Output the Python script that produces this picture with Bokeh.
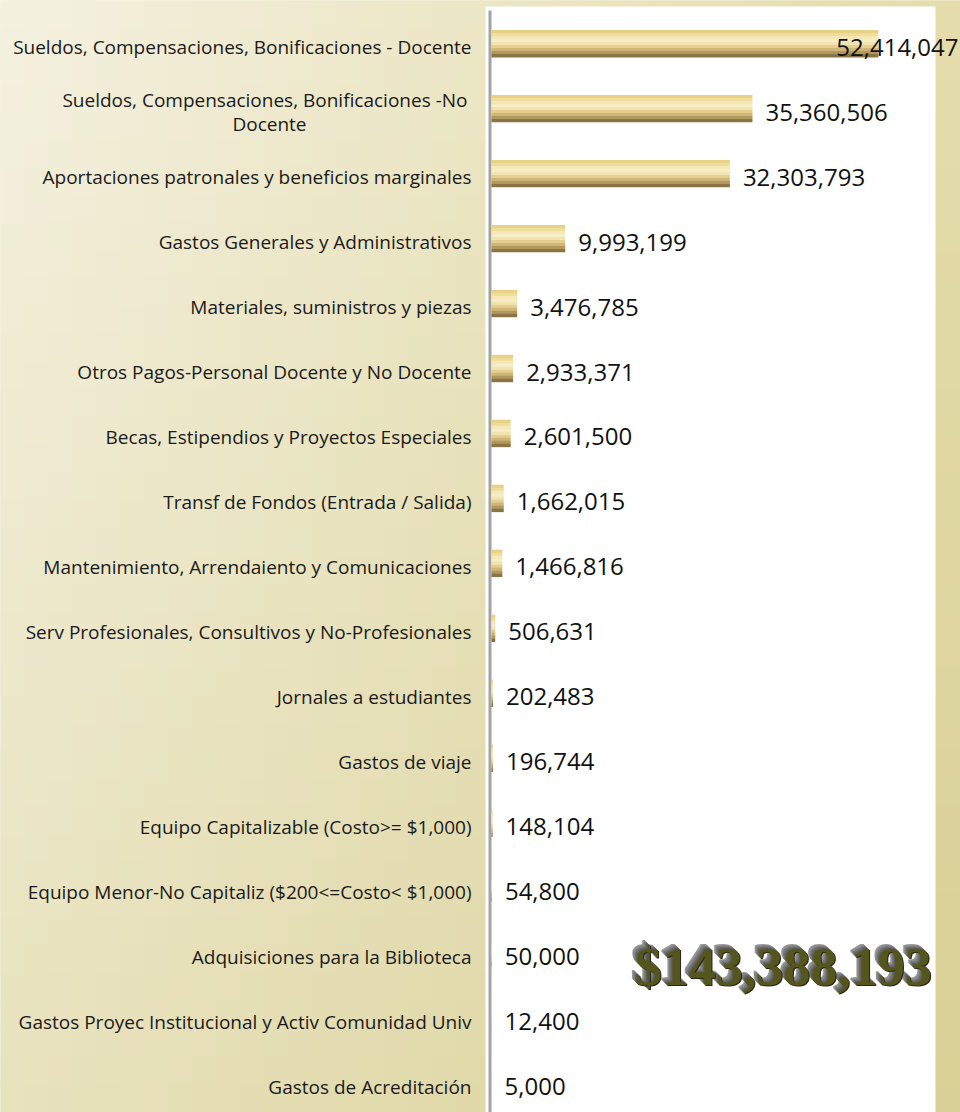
import numpy as np
from bokeh.plotting import figure
from bokeh.models import Range1d, ColumnDataSource
from bokeh.core.properties import value
from bokeh.embed import file_html
from bokeh.resources import INLINE

# ---------------- data ----------------
categories = [
    "Sueldos, Compensaciones, Bonificaciones - Docente",
    "Sueldos, Compensaciones, Bonificaciones -No\nDocente",
    "Aportaciones patronales y beneficios marginales",
    "Gastos Generales y Administrativos",
    "Materiales, suministros y piezas",
    "Otros Pagos-Personal Docente y No Docente",
    "Becas, Estipendios y Proyectos Especiales",
    "Transf de Fondos (Entrada / Salida)",
    "Mantenimiento, Arrendaiento y Comunicaciones",
    "Serv Profesionales, Consultivos y No-Profesionales",
    "Jornales a estudiantes",
    "Gastos de viaje",
    "Equipo Capitalizable (Costo>= $1,000)",
    "Equipo Menor-No Capitaliz ($200<=Costo< $1,000)",
    "Adquisiciones para la Biblioteca",
    "Gastos Proyec Institucional y Activ Comunidad Univ",
    "Gastos de Acreditación",
]
values = [52414047, 35360506, 32303793, 9993199, 3476785, 2933371, 2601500,
          1662015, 1466816, 506631, 202483, 196744, 148104, 54800, 50000,
          12400, 5000]
total_label = "$143,388,193"

# ---------------- layout constants ----------------
W, H = 960, 1112
ZERO_PX = 491.0
PX_PER_UNIT = 7.38e-6
ROW0_PX = 46.7
ROW_PX = 64.96

x_start = -ZERO_PX / PX_PER_UNIT
x_end = (W - ZERO_PX) / PX_PER_UNIT
y_top = -ROW0_PX / ROW_PX
y_bottom = (H - ROW0_PX) / ROW_PX


def px2x(px):
    return x_start + px / PX_PER_UNIT


def py2y(py):
    return y_top + py / ROW_PX


p = figure(width=W, height=H, x_range=Range1d(x_start, x_end),
           y_range=Range1d(y_bottom, y_top), output_backend="svg",
           toolbar_location=None, min_border=0)
p.axis.visible = False
p.grid.visible = False
p.outline_line_color = None
p.border_fill_color = "#ebe5c4"
p.background_fill_color = "#ebe5c4"

# ---------------- background gradient ----------------
def hex2rgb(h):
    h = h.lstrip("#")
    return np.array([int(h[i:i + 2], 16) for i in (0, 2, 4)], dtype=float)

TL, TR = hex2rgb("#f4f1e0"), hex2rgb("#e4dcab")
BL, BR = hex2rgb("#e8e2bd"), hex2rgb("#d9d096")
nx, ny = 40, 40
ql, qr, qt, qb, qc = [], [], [], [], []
for i in range(nx):
    for j in range(ny):
        u = (i + 0.5) / nx
        v = (j + 0.5) / ny
        c = (1 - u) * (1 - v) * TL + u * (1 - v) * TR + (1 - u) * v * BL + u * v * BR
        ql.append(px2x(i * W / nx - 0.5))
        qr.append(px2x((i + 1) * W / nx + 0.5))
        qt.append(py2y(j * H / ny - 0.5))
        qb.append(py2y((j + 1) * H / ny + 0.5))
        qc.append("#%02x%02x%02x" % tuple(int(round(k)) for k in c))
p.quad(left=ql, right=qr, top=qt, bottom=qb, fill_color=qc, line_color=None)

# white plotting panel
p.quad(left=[px2x(485)], right=[px2x(935)], top=[py2y(6)], bottom=[py2y(H + 2)],
       fill_color="white", line_color=None)

# vertical axis line
p.segment(x0=[px2x(489.5)], x1=[px2x(489.5)], y0=[py2y(10)], y1=[py2y(H)],
          line_color="#a3a3a3", line_width=3)

# ---------------- bars (vertical golden gradient) ----------------
idx = list(range(len(categories)))
bar_colors = ["#e6d185", "#efdd9c", "#f5e8b6", "#f7eec6", "#f2e4b0",
              "#e4cf8f", "#cfb676", "#b1985c", "#8a7344"]
strip = 3.0
for j, c in enumerate(bar_colors):
    off = (-3.5 + (j - 4) * strip) / ROW_PX
    p.hbar(y=[k + off for k in idx], left=0, right=values,
           height=(strip + 0.4) / ROW_PX, fill_color=c, line_color=None)

# ---------------- value labels ----------------
lab_x, lab_align, lab_off = [], [], []
for v in values:
    end_px = ZERO_PX + v * PX_PER_UNIT
    if end_px + 13 + 130 > W:
        lab_x.append(px2x(W - 2))
        lab_align.append("right")
        lab_off.append(0)
    else:
        lab_x.append(v)
        lab_align.append("left")
        lab_off.append(13)
src_v = ColumnDataSource(dict(x=lab_x, y=idx, t=[f"{v:,}" for v in values],
                              a=lab_align, o=lab_off))
p.text(x="x", y="y", text="t", source=src_v, text_align="a", x_offset="o",
       text_baseline="middle", text_font=value("Open Sans"),
       text_font_size="24px", text_color="#111111")

# ---------------- category labels ----------------
cx, cy, ct, co, cyo, ca = [], [], [], [], [], []
for k, name in enumerate(categories):
    if "\n" in name:
        l1, l2 = name.split("\n")
        cx += [0, 0]; cy += [k, k]; ct += [l1, l2]
        co += [-24, -222]; cyo += [-12, 12]; ca += ["right", "center"]
    else:
        cx.append(0); cy.append(k); ct.append(name)
        co.append(-20); cyo.append(0); ca.append("right")
src_c = ColumnDataSource(dict(x=cx, y=cy, t=ct, o=co, yo=cyo, a=ca))
p.text(x="x", y="y", text="t", source=src_c, x_offset="o", y_offset="yo",
       text_align="a", text_baseline="middle", text_font=value("Open Sans"),
       text_font_size="19px", text_color="#1a1a1a")

# ---------------- big total (3D-ish) ----------------
tx, ty = px2x(783), py2y(966)
layers_off = [(-5, -5, "#9a9a9a"), (-4, -4, "#8a8a8a"), (-3, -3, "#7a7a7a"),
              (-2, -2, "#6a6a6a"), (-1, -1, "#5c5c5c"), (1, 1, "#2a2a14"),
              (0, 0, "#55551e")]
src_t = ColumnDataSource(dict(x=[tx] * len(layers_off), y=[ty] * len(layers_off),
                              t=[total_label] * len(layers_off),
                              xo=[l[0] for l in layers_off],
                              yo=[l[1] for l in layers_off],
                              c=[l[2] for l in layers_off]))
p.text(x="x", y="y", text="t", source=src_t, x_offset="xo", y_offset="yo",
       text_color="c", text_align="center", text_baseline="middle",
       text_font=value("Liberation Serif"), text_font_style="bold",
       text_font_size="54px")

open("out.html", "w").write(file_html(p, INLINE))
